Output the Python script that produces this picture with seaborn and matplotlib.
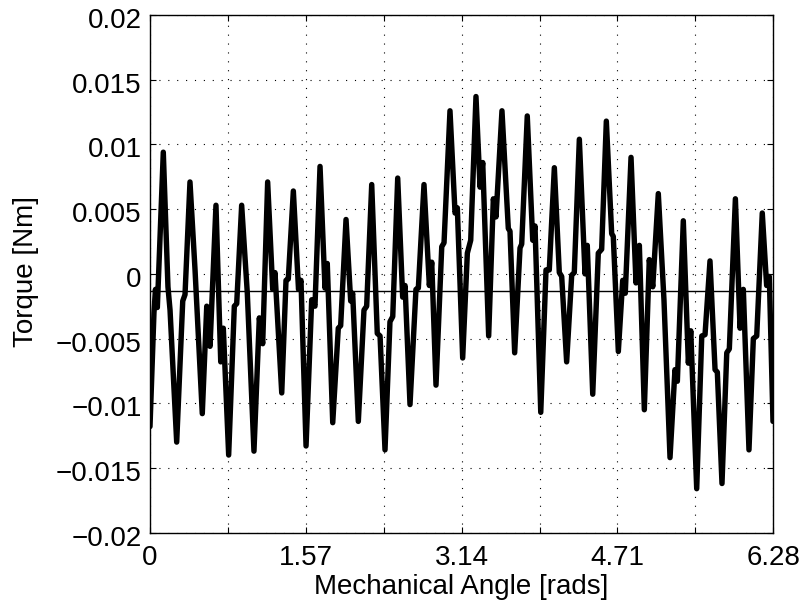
import numpy as np
import pandas as pd
import matplotlib
matplotlib.use("Agg")
import matplotlib.pyplot as plt
import matplotlib.transforms as mtrans
import seaborn as sns

# Mechanical angle [rad] and torque [Nm]
angle = [0.000, 0.040, 0.055, 0.074, 0.134, 0.181, 0.202, 0.269, 0.330, 0.353,
         0.403, 0.454, 0.527, 0.572, 0.605, 0.665, 0.713, 0.739, 0.793, 0.850,
         0.874, 0.924, 0.981, 1.048, 1.102, 1.136, 1.186, 1.237, 1.260, 1.328,
         1.371, 1.394, 1.445, 1.497, 1.522, 1.573, 1.630, 1.663, 1.714, 1.764,
         1.787, 1.842, 1.898, 1.922, 1.976, 2.023, 2.043, 2.100, 2.157, 2.184,
         2.235, 2.291, 2.319, 2.369, 2.419, 2.447, 2.497, 2.547, 2.571, 2.621,
         2.681, 2.705, 2.762, 2.816, 2.840, 2.883, 2.941, 2.964, 3.024, 3.075,
         3.098, 3.152, 3.199, 3.233, 3.286, 3.327, 3.354, 3.414, 3.461, 3.488,
         3.548, 3.612, 3.629, 3.676, 3.730, 3.747, 3.803, 3.858, 3.881, 3.939,
         3.992, 4.025, 4.076, 4.126, 4.150, 4.200, 4.251, 4.277, 4.328, 4.385,
         4.408, 4.463, 4.519, 4.553, 4.600, 4.654, 4.670, 4.721, 4.765, 4.791,
         4.849, 4.899, 4.933, 4.983, 5.033, 5.068, 5.124, 5.181, 5.242, 5.292,
         5.316, 5.376, 5.427, 5.451, 5.511, 5.562, 5.595, 5.645, 5.696, 5.719,
         5.766, 5.814, 5.840, 5.901, 5.948, 5.981, 6.038, 6.082, 6.116, 6.172,
         6.216, 6.243, 6.280]
torque = [-0.0118, -0.0030, -0.0012, -0.0026, 0.0094, -0.0010, -0.0028, -0.0130, -0.0021, -0.0016,
          0.0071, 0.0003, -0.0108, -0.0025, -0.0056, 0.0053, -0.0068, -0.0042, -0.0140, -0.0025,
          -0.0023, 0.0053, -0.0015, -0.0137, -0.0034, -0.0054, 0.0071, -0.0012, 0.0001, -0.0092,
          -0.0005, -0.0004, 0.0064, -0.0012, -0.0005, -0.0133, -0.0020, -0.0025, 0.0083, -0.0011,
          0.0008, -0.0115, -0.0042, -0.0040, 0.0042, -0.0021, -0.0015, -0.0114, -0.0028, -0.0025,
          0.0069, -0.0046, -0.0048, -0.0136, -0.0037, -0.0033, 0.0074, -0.0018, -0.0009, -0.0101,
          -0.0012, -0.0011, 0.0069, -0.0009, 0.0009, -0.0086, 0.0021, 0.0024, 0.0126, 0.0047,
          0.0051, -0.0065, 0.0016, 0.0026, 0.0137, 0.0067, 0.0086, -0.0048, 0.0058, 0.0044,
          0.0126, 0.0035, 0.0033, -0.0061, 0.0020, 0.0023, 0.0122, 0.0026, 0.0037, -0.0107,
          0.0003, 0.0003, 0.0082, 0.0001, -0.0002, -0.0068, -0.0001, 0.0001, 0.0104, 0.0000,
          0.0022, -0.0093, 0.0016, 0.0019, 0.0118, 0.0031, 0.0029, -0.0060, -0.0005, -0.0015,
          0.0090, -0.0007, 0.0022, -0.0105, 0.0011, -0.0010, 0.0062, -0.0020, -0.0142, -0.0074,
          -0.0083, 0.0041, -0.0069, -0.0044, -0.0166, -0.0048, -0.0047, 0.0010, -0.0074, -0.0076,
          -0.0162, -0.0061, -0.0058, 0.0058, -0.0042, -0.0012, -0.0136, -0.0050, -0.0048, 0.0047,
          -0.0009, -0.0002, -0.0114]
mean_torque = -0.00134

xtick_vals = [0, np.pi/4, np.pi/2, 3*np.pi/4, np.pi, 5*np.pi/4, 3*np.pi/2, 7*np.pi/4, 2*np.pi]
xtick_labels = ["0", "", "1.57", "", "3.14", "", "4.71", "", "6.28"]
ytick_vals = [-0.02, -0.015, -0.01, -0.005, 0, 0.005, 0.01, 0.015, 0.02]
ytick_labels = ["\u22120.02", "\u22120.015", "\u22120.01", "\u22120.005", "0",
                "0.005", "0.01", "0.015", "0.02"]

sns.set_style("white")
plt.rcParams["font.family"] = ["Liberation Sans", "DejaVu Sans"]
plt.rcParams["axes.labelcolor"] = "black"
plt.rcParams["text.color"] = "black"

FS = 20

fig = plt.figure(figsize=(8.04, 6.08), dpi=100)
ax = fig.add_axes([150/804, 1 - 532.7/608, 623.3/804, 517.7/608])

df = pd.DataFrame({"angle": angle, "torque": torque})
sns.lineplot(data=df, x="angle", y="torque", ax=ax, color="black", linewidth=3.9,
             sort=False, estimator=None)
for l in ax.lines:
    l.set_solid_joinstyle("round")
    l.set_solid_capstyle("round")
ax.axhline(mean_torque, color="black", linewidth=1.0)

ax.set_xlim(0, 2*np.pi)
ax.set_ylim(-0.02, 0.02)
ax.set_xticks(xtick_vals)
ax.set_xticklabels(xtick_labels)
ax.set_yticks(ytick_vals)
ax.set_yticklabels(ytick_labels)
ax.grid(True, linestyle=(0, (1, 7)), color="black", linewidth=0.8)
ax.tick_params(direction="in", length=4, width=0.8, colors="black",
               top=True, right=True, bottom=True, left=True, labelsize=FS)
ax.tick_params(axis="y", pad=6)
ax.tick_params(axis="x", pad=9)
shift = mtrans.ScaledTranslation(0, -3/100, fig.dpi_scale_trans)
for t in ax.get_yticklabels():
    t.set_transform(t.get_transform() + shift)
for s in ax.spines.values():
    s.set_visible(True)
    s.set_color("black")
    s.set_linewidth(1.0)
ax.set_xlabel("Mechanical Angle [rads]", fontsize=FS, color="black")
ax.set_ylabel("Torque [Nm]", fontsize=FS, color="black")
ax.xaxis.set_label_coords(0.5, -(574 - 532.7)/517.7)
ax.yaxis.set_label_coords((39 - 150)/623.3, 0.5055)

fig.savefig("out.png", dpi=100)
